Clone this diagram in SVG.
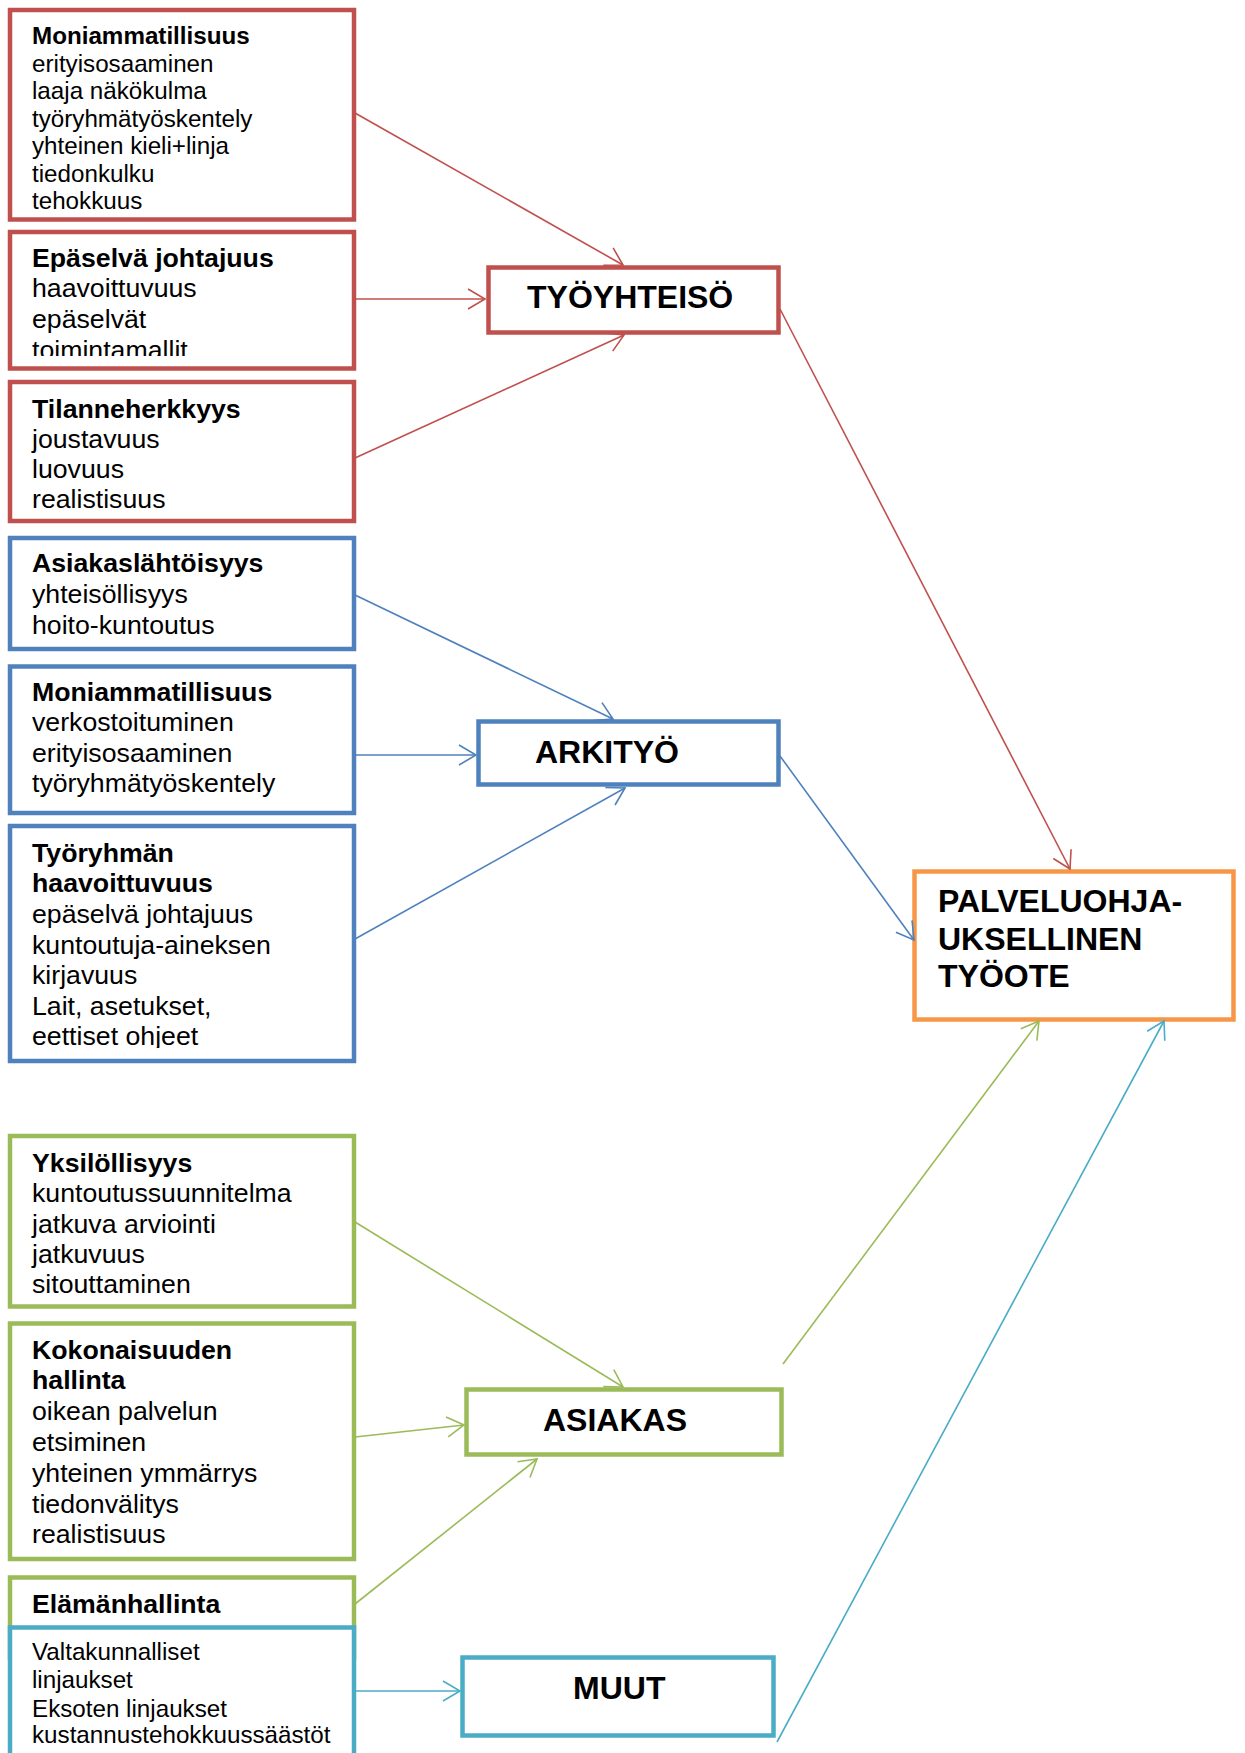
<svg xmlns="http://www.w3.org/2000/svg" width="1245" height="1753" viewBox="0 0 1245 1753">
<style>
.box{fill:#fff;stroke-width:4.5}
.red{stroke:#C0504D}.blue{stroke:#4F81BD}.green{stroke:#9BBB59}.teal{stroke:#4BACC6}.orange{stroke:#F79646}
text{font-family:"Liberation Sans",Arial,sans-serif;fill:#000}
.t{font-size:26.7px}
.s{font-size:24.2px}
.b{font-weight:bold}
.n{font-size:32px;font-weight:bold}
.c{fill:none;stroke-width:1.6}
</style>
<defs>
<marker id="ar-red" viewBox="-20 -12 22 24" refX="0" refY="0" markerWidth="22" markerHeight="24" markerUnits="userSpaceOnUse" orient="auto"><path d="M-17,-10 L0,0 L-17,10" fill="none" stroke="#C0504D" stroke-width="1.6"/></marker>
<marker id="ar-blue" viewBox="-20 -12 22 24" refX="0" refY="0" markerWidth="22" markerHeight="24" markerUnits="userSpaceOnUse" orient="auto"><path d="M-17,-10 L0,0 L-17,10" fill="none" stroke="#4F81BD" stroke-width="1.6"/></marker>
<marker id="ar-green" viewBox="-20 -12 22 24" refX="0" refY="0" markerWidth="22" markerHeight="24" markerUnits="userSpaceOnUse" orient="auto"><path d="M-17,-10 L0,0 L-17,10" fill="none" stroke="#9BBB59" stroke-width="1.6"/></marker>
<marker id="ar-teal" viewBox="-20 -12 22 24" refX="0" refY="0" markerWidth="22" markerHeight="24" markerUnits="userSpaceOnUse" orient="auto"><path d="M-17,-10 L0,0 L-17,10" fill="none" stroke="#4BACC6" stroke-width="1.6"/></marker>
<clipPath id="clip2"><rect x="12" y="234" width="340" height="122"/></clipPath>
<clipPath id="clip6"><rect x="12" y="828" width="340" height="220"/></clipPath>
</defs>

<g id="box-moniammatillisuus-1">
<rect class="box red" x="10" y="10" width="344" height="209.5"/>
<text class="s b" x="32" y="44">Moniammatillisuus</text>
<text class="s" x="32" y="71.5">erityisosaaminen</text>
<text class="s" x="32" y="99">laaja näkökulma</text>
<text class="s" x="32" y="126.5">työryhmätyöskentely</text>
<text class="s" x="32" y="154">yhteinen kieli+linja</text>
<text class="s" x="32" y="181.5">tiedonkulku</text>
<text class="s" x="32" y="209">tehokkuus</text>
</g>

<g id="box-epaselva-johtajuus">
<rect class="box red" x="10" y="232" width="344" height="136.5"/>
<g clip-path="url(#clip2)">
<text class="t b" x="32" y="267">Epäselvä johtajuus</text>
<text class="t" x="32" y="297">haavoittuvuus</text>
<text class="t" x="32" y="328">epäselvät</text>
<text class="t" x="32" y="359">toimintamallit</text>
</g>
</g>

<g id="box-tilanneherkkyys">
<rect class="box red" x="10" y="382" width="344" height="139"/>
<text class="t b" x="32" y="418">Tilanneherkkyys</text>
<text class="t" x="32" y="448">joustavuus</text>
<text class="t" x="32" y="478">luovuus</text>
<text class="t" x="32" y="508">realistisuus</text>
</g>

<g id="box-asiakaslahtoisyys">
<rect class="box blue" x="10" y="538" width="344" height="111"/>
<text class="t b" x="32" y="572">Asiakaslähtöisyys</text>
<text class="t" x="32" y="603">yhteisöllisyys</text>
<text class="t" x="32" y="634">hoito-kuntoutus</text>
</g>

<g id="box-moniammatillisuus-2">
<rect class="box blue" x="10" y="666.5" width="344" height="146.5"/>
<text class="t b" x="32" y="700.5">Moniammatillisuus</text>
<text class="t" x="32" y="731">verkostoituminen</text>
<text class="t" x="32" y="762">erityisosaaminen</text>
<text class="t" x="32" y="792">työryhmätyöskentely</text>
</g>

<g id="box-tyoryhman-haavoittuvuus">
<rect class="box blue" x="10" y="826" width="344" height="235"/>
<g clip-path="url(#clip6)">
<text class="t b" x="32" y="862">Työryhmän</text>
<text class="t b" x="32" y="892">haavoittuvuus</text>
<text class="t" x="32" y="923">epäselvä johtajuus</text>
<text class="t" x="32" y="953.5">kuntoutuja-aineksen</text>
<text class="t" x="32" y="984">kirjavuus</text>
<text class="t" x="32" y="1015">Lait, asetukset,</text>
<text class="t" x="32" y="1045">eettiset ohjeet</text>
</g>
</g>

<g id="box-yksilollisyys">
<rect class="box green" x="10" y="1136" width="344" height="170.5"/>
<text class="t b" x="32" y="1172">Yksilöllisyys</text>
<text class="t" x="32" y="1202">kuntoutussuunnitelma</text>
<text class="t" x="32" y="1233">jatkuva arviointi</text>
<text class="t" x="32" y="1263">jatkuvuus</text>
<text class="t" x="32" y="1293">sitouttaminen</text>
</g>

<g id="box-kokonaisuuden-hallinta">
<rect class="box green" x="10" y="1323.5" width="344" height="235.5"/>
<text class="t b" x="32" y="1359">Kokonaisuuden</text>
<text class="t b" x="32" y="1389">hallinta</text>
<text class="t" x="32" y="1420">oikean palvelun</text>
<text class="t" x="32" y="1451">etsiminen</text>
<text class="t" x="32" y="1482">yhteinen ymmärrys</text>
<text class="t" x="32" y="1513">tiedonvälitys</text>
<text class="t" x="32" y="1543">realistisuus</text>
</g>

<g id="box-elamanhallinta">
<rect class="box green" x="10" y="1577.5" width="344" height="80"/>
<text class="t b" x="32" y="1613">Elämänhallinta</text>
</g>

<g id="box-linjaukset">
<rect class="box teal" x="10" y="1627.5" width="344" height="140"/>
<text class="s" x="32" y="1660">Valtakunnalliset</text>
<text class="s" x="32" y="1688">linjaukset</text>
<text class="s" x="32" y="1717">Eksoten linjaukset</text>
<text class="s" x="32" y="1743">kustannustehokkuussäästöt</text>
</g>

<g id="node-tyoyhteiso">
<rect class="box red" x="488.5" y="267.5" width="290" height="65"/>
<text class="n" x="527" y="308">TYÖYHTEISÖ</text>
</g>

<g id="node-arkityo">
<rect class="box blue" x="478.5" y="721.5" width="300" height="63"/>
<text class="n" x="535" y="763">ARKITYÖ</text>
</g>

<g id="node-asiakas">
<rect class="box green" x="466.5" y="1389.5" width="315" height="65"/>
<text class="n" x="543" y="1431">ASIAKAS</text>
</g>

<g id="node-muut">
<rect class="box teal" x="462.5" y="1657.5" width="311" height="78"/>
<text class="n" x="573" y="1699">MUUT</text>
</g>

<g id="node-palveluohjauksellinen">
<rect class="box orange" x="914.5" y="871.5" width="319" height="148"/>
<text class="n" x="938" y="912">PALVELUOHJA-</text>
<text class="n" x="938" y="950">UKSELLINEN</text>
<text class="n" x="938" y="987">TYÖOTE</text>
</g>

<g id="connectors">
<line class="c red" x1="355" y1="113" x2="623" y2="265" marker-end="url(#ar-red)"/>
<line class="c red" x1="355" y1="299" x2="485" y2="299" marker-end="url(#ar-red)"/>
<line class="c red" x1="355" y1="458" x2="624" y2="335" marker-end="url(#ar-red)"/>
<line class="c red" x1="780" y1="309" x2="1070" y2="869" marker-end="url(#ar-red)"/>
<line class="c blue" x1="355" y1="595" x2="613" y2="719" marker-end="url(#ar-blue)"/>
<line class="c blue" x1="355" y1="755" x2="476" y2="755" marker-end="url(#ar-blue)"/>
<line class="c blue" x1="355" y1="939" x2="625" y2="788" marker-end="url(#ar-blue)"/>
<line class="c blue" x1="780" y1="756" x2="914" y2="940" marker-end="url(#ar-blue)"/>
<line class="c green" x1="355" y1="1222" x2="623" y2="1387" marker-end="url(#ar-green)"/>
<line class="c green" x1="355" y1="1437" x2="464" y2="1425" marker-end="url(#ar-green)"/>
<line class="c green" x1="355" y1="1604" x2="537" y2="1459" marker-end="url(#ar-green)"/>
<line class="c green" x1="783" y1="1364" x2="1039" y2="1021" marker-end="url(#ar-green)"/>
<line class="c teal" x1="355" y1="1691" x2="460" y2="1691" marker-end="url(#ar-teal)"/>
<line class="c teal" x1="777" y1="1742" x2="1164" y2="1021" marker-end="url(#ar-teal)"/>
</g>
</svg>
